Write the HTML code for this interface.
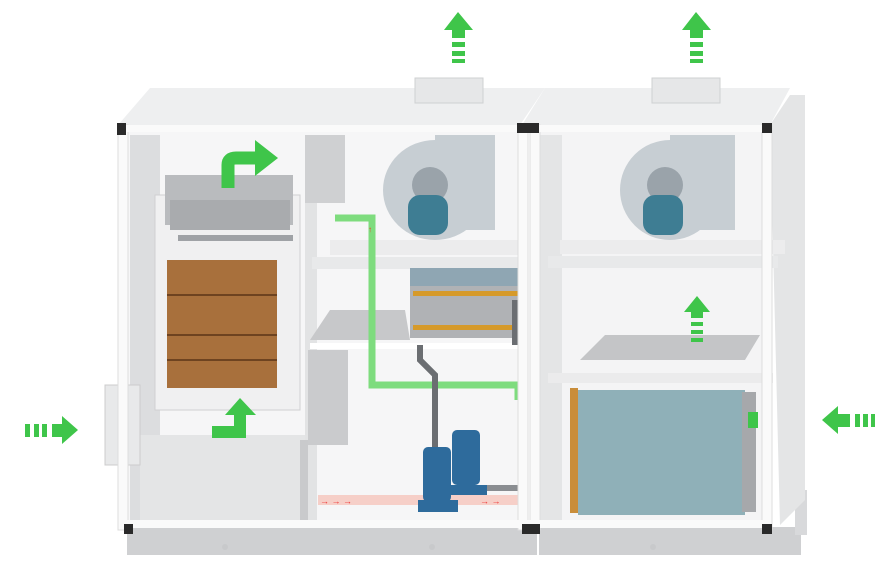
<!DOCTYPE html>
<html><head><style>html,body{margin:0;padding:0;background:#fff;width:893px;height:583px;overflow:hidden}</style></head>
<body>
<svg width="893" height="583" viewBox="0 0 893 583" xmlns="http://www.w3.org/2000/svg">
<rect width="893" height="583" fill="#fff"/>
<!-- base -->
<rect x="127" y="527" width="410" height="28" fill="#cfd0d2"/>
<rect x="539" y="527" width="262" height="28" fill="#cfd0d2"/>
<rect x="795" y="490" width="12" height="45" fill="#d8d9db"/>
<!-- top panels -->
<polygon points="118,125 150,88 545,88 520,125" fill="#eeeff0"/>
<polygon points="522,125 545,88 790,88 770,125" fill="#eeeff0"/>
<rect x="415" y="78" width="68" height="25" fill="#e6e7e8" stroke="#cfd0d2"/>
<rect x="652" y="78" width="68" height="25" fill="#e6e7e8" stroke="#cfd0d2"/>
<!-- right side depth -->
<polygon points="770,125 790,95 805,95 805,500 780,525" fill="#e4e5e6"/>
<!-- left box interior -->
<rect x="128" y="130" width="392" height="395" fill="#f6f6f7"/>
<rect x="130" y="135" width="30" height="390" fill="#dcdddf"/>
<rect x="305" y="135" width="12" height="390" fill="#e2e3e4"/>
<!-- louvers -->
<rect x="305" y="135" width="40" height="68" fill="#cfd0d2"/>
<rect x="308" y="350" width="40" height="95" fill="#cacbcd"/>
<!-- media frame -->
<rect x="155" y="195" width="145" height="215" fill="#f0f0f1" stroke="#d0d0d2"/>
<rect x="165" y="175" width="128" height="50" fill="#b9bbbe"/>
<rect x="170" y="200" width="120" height="30" fill="#a9abae"/>
<rect x="178" y="235" width="115" height="6" fill="#9fa2a6"/>
<rect x="167" y="260" width="110" height="128" fill="#a8703c"/>
<g stroke="#6e4320" stroke-width="2">
<line x1="167" y1="295" x2="277" y2="295"/><line x1="167" y1="335" x2="277" y2="335"/><line x1="167" y1="360" x2="277" y2="360"/>
</g>
<!-- bottom tank -->
<rect x="140" y="435" width="165" height="90" fill="#e4e5e6"/>
<rect x="300" y="440" width="8" height="85" fill="#c9cacc"/>
<rect x="105" y="385" width="35" height="80" fill="#e8e9ea" stroke="#ccc"/>
<!-- shelves -->
<rect x="330" y="240" width="190" height="15" fill="#ececed"/>
<rect x="312" y="257" width="208" height="12" fill="#e8e9ea"/>
<polygon points="310,340 330,310 405,310 410,340" fill="#c7c8ca"/>
<rect x="310" y="343" width="210" height="6" fill="#fff"/>
<!-- coil -->
<rect x="410" y="268" width="110" height="70" fill="#b0b2b5"/>
<rect x="410" y="268" width="110" height="18" fill="#8fa6b3"/>
<rect x="413" y="291" width="105" height="5" fill="#d69a2a"/>
<rect x="413" y="325" width="105" height="5" fill="#d69a2a"/>
<!-- green pipe -->
<path d="M335,218 H372 V385 H518 V400" fill="none" stroke="#7edc7e" stroke-width="7"/>
<g fill="#e43">
<text x="368" y="232" font-size="8" font-family="Liberation Sans">↑</text>
</g>
<!-- dark pipes -->
<path d="M420,345 V360 L435,375 V450" stroke="#6b6e72" stroke-width="6" fill="none"/>
<path d="M515,300 V345" stroke="#6b6e72" stroke-width="6"/>
<rect x="480" y="485" width="40" height="6" fill="#8a8d91"/>
<!-- red water line -->
<rect x="318" y="495" width="200" height="10" fill="#f6cfc8"/>
<g fill="#e33" font-size="9" font-family="Liberation Sans"><text x="320" y="504">→  →  →</text><text x="480" y="504">→ →</text></g>
<!-- pumps -->
<rect x="452" y="430" width="28" height="55" rx="5" fill="#2e6b9c"/>
<rect x="423" y="447" width="28" height="55" rx="5" fill="#2e6b9c"/>
<rect x="418" y="500" width="40" height="12" fill="#2e6b9c"/>
<rect x="447" y="485" width="40" height="10" fill="#2e6b9c"/>
<!-- fans -->
<ellipse cx="435" cy="190" rx="52" ry="50" fill="#c7ced3"/>
<rect x="435" y="135" width="60" height="95" fill="#c7ced3"/>
<circle cx="430" cy="185" r="18" fill="#9aa3aa"/>
<rect x="408" y="195" width="40" height="40" rx="12" fill="#3e7d93"/>
<!-- right box -->
<rect x="540" y="130" width="230" height="395" fill="#f4f4f5"/>
<rect x="540" y="135" width="22" height="390" fill="#e4e5e6"/>
<ellipse cx="670" cy="190" rx="50" ry="50" fill="#c7ced3"/>
<rect x="670" y="135" width="65" height="95" fill="#c7ced3"/>
<circle cx="665" cy="185" r="18" fill="#9aa3aa"/>
<rect x="643" y="195" width="40" height="40" rx="12" fill="#3e7d93"/>
<rect x="560" y="240" width="225" height="14" fill="#ececed"/>
<rect x="548" y="256" width="230" height="12" fill="#e8e9ea"/>
<polygon points="580,360 605,335 760,335 745,360" fill="#c4c5c7"/>
<rect x="548" y="373" width="225" height="10" fill="#ebebec"/>
<rect x="570" y="388" width="8" height="125" fill="#c98d3a"/>
<rect x="578" y="390" width="167" height="125" fill="#8fb0b8"/>
<rect x="742" y="392" width="14" height="120" fill="#a6a8ab"/>
<!-- posts -->
<rect x="118" y="125" width="10" height="405" fill="#fafafa" stroke="#ddd"/>
<rect x="518" y="125" width="10" height="405" fill="#fafafa" stroke="#ddd"/>
<rect x="530" y="125" width="10" height="405" fill="#fafafa" stroke="#ddd"/>
<rect x="762" y="125" width="10" height="405" fill="#fafafa" stroke="#ddd"/>
<rect x="118" y="125" width="410" height="7" fill="#fafafa"/>
<rect x="530" y="125" width="240" height="7" fill="#fafafa"/>
<rect x="125" y="520" width="405" height="8" fill="#fafafa"/>
<rect x="530" y="520" width="240" height="8" fill="#fafafa"/>
<g fill="#2a2a2a">
<rect x="117" y="123" width="9" height="12"/><rect x="517" y="123" width="22" height="10"/><rect x="762" y="123" width="10" height="10"/>
<rect x="124" y="524" width="9" height="10"/><rect x="522" y="524" width="18" height="10"/><rect x="762" y="524" width="10" height="10"/>
</g>
<!-- green arrows -->
<g fill="#3fc54a">
<polygon points="458,12 444,30 452,30 452,38 465,38 465,30 473,30"/>
<rect x="452" y="42" width="13" height="5"/><rect x="452" y="51" width="13" height="5"/><rect x="452" y="59" width="13" height="4"/>
<polygon points="696,12 682,30 690,30 690,38 703,38 703,30 711,30"/>
<rect x="690" y="42" width="13" height="5"/><rect x="690" y="51" width="13" height="5"/><rect x="690" y="59" width="13" height="4"/>
<polygon points="697,296 684,312 691,312 691,318 703,318 703,312 710,312"/>
<rect x="691" y="322" width="12" height="4"/><rect x="691" y="330" width="12" height="4"/><rect x="691" y="338" width="12" height="4"/>
<polygon points="78,430 62,416 62,424 52,424 52,437 62,437 62,444"/>
<rect x="25" y="424" width="5" height="13"/><rect x="34" y="424" width="5" height="13"/><rect x="42" y="424" width="5" height="13"/>
<polygon points="822,420 838,406 838,414 850,414 850,427 838,427 838,434"/>
<rect x="855" y="414" width="5" height="13"/><rect x="863" y="414" width="5" height="13"/><rect x="871" y="414" width="4" height="13"/>
<path d="M228,188 V165 Q228,158 236,158 H258" fill="none" stroke="#3fc54a" stroke-width="13"/>
<polygon points="255,140 278,158 255,176"/>
<path d="M212,432 H240 V412" fill="none" stroke="#3fc54a" stroke-width="12"/>
<polygon points="225,415 240,398 256,415"/>
<rect x="748" y="412" width="10" height="16"/>
</g>
<g fill="#c8c9cb"><circle cx="225" cy="547" r="3"/><circle cx="432" cy="547" r="3"/><circle cx="653" cy="547" r="3"/></g>
</svg>
</body></html>
